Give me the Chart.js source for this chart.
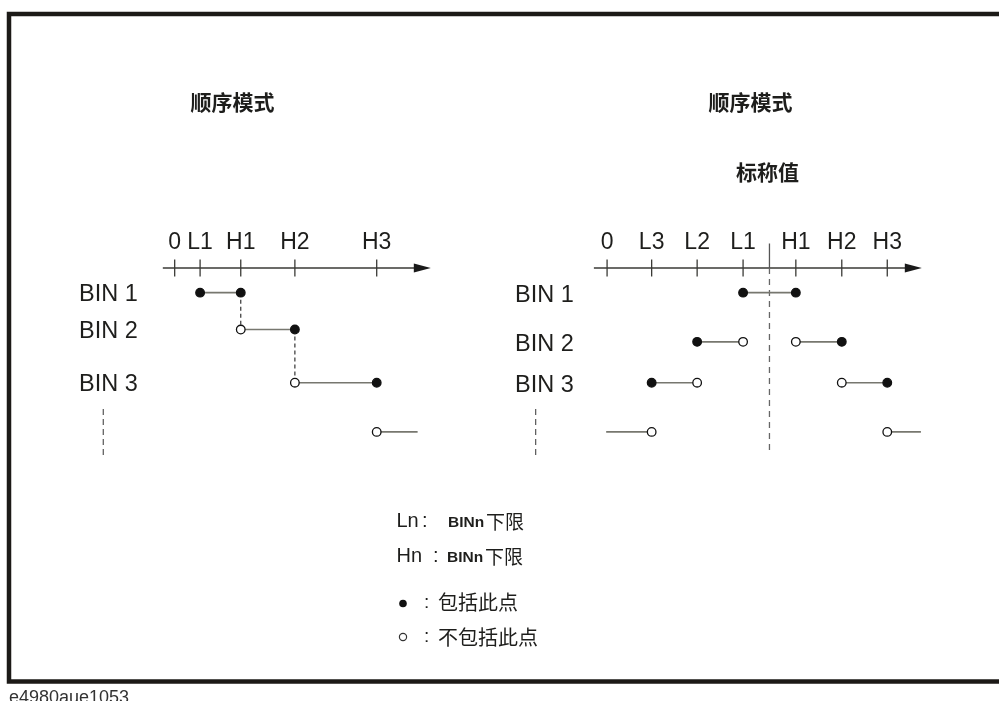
<!DOCTYPE html>
<html>
<head>
<meta charset="utf-8">
<script src="https://cdn.jsdelivr.net/npm/chart.js@4.4.1/dist/chart.umd.min.js"></script>
<style>
  html, body { margin: 0; padding: 0; background: #fff; }
  #wrap { width: 999px; height: 701px; position: relative; }
</style>
</head>
<body>
<div id="wrap"><canvas id="binChart"></canvas></div>
<script>
// Number line ticks (limit units along each line)
const leftTickLabels = ['0', 'L1', 'H1', 'H2', 'H3'];
const leftTickValues = [0, 1, 2.6, 4.73, 7.95];
const rightTickLabels = ['0', 'L3', 'L2', 'L1', 'H1', 'H2', 'H3'];
const rightTickValues = [0, 0.98, 1.98, 2.99, 4.15, 5.16, 6.16];
const nominalValue = 3.57;

// Rows: BIN 1..3, then the "further bins" row
const binLabels = ['BIN 1', 'BIN 2', 'BIN 3'];
const leftRows = [1, 2.5, 4.66, 6.66];
const rightRows = [1, 3, 4.66, 6.66];

// Bin ranges: [from, to, fromIncluded, toIncluded]
const leftBins = [
  [['L1', 'H1', true, true]],
  [['H1', 'H2', false, true]],
  [['H2', 'H3', false, true]]
];
const rightBins = [
  [['L1', 'H1', true, true]],
  [['L2', 'L1', true, false], ['H1', 'H2', false, true]],
  [['L3', 'L2', true, false], ['H2', 'H3', false, true]]
];
// open-ended ranges after the last bin
const leftTailEnd = 9.56;
const rightTailStart = -0.02;
const rightTailEnd = 6.9;

const W = 999, H = 701;
const leftOriginPx = 171, leftUnitPx = 25.7;
const rightOriginPx = 608.3, rightUnitPx = 46;
const axisPx = 266.7, rowUnitPx = 25;

const CJK = '"Noto Sans CJK SC", sans-serif';
const LATIN = '"Liberation Sans", Arial, sans-serif';
const INK = '#1e1e1c';

const leftVal = name => leftTickValues[leftTickLabels.indexOf(name)];
const rightVal = name => rightTickValues[rightTickLabels.indexOf(name)];

function dotColor(kind) {
  return kind === 'in' ? '#111' : '#fff';
}

function segment(xAxisID, x0, x1, y, dot0, dot1) {
  return {
    xAxisID: xAxisID,
    yAxisID: 'y',
    data: [{ x: x0, y: y }, { x: x1, y: y }],
    showLine: true,
    borderColor: '#77776f',
    borderWidth: 1.6,
    pointRadius: [dot0 ? 4.3 : 0, dot1 ? 4.3 : 0],
    pointBackgroundColor: [dotColor(dot0), dotColor(dot1)],
    pointBorderColor: '#111',
    pointBorderWidth: 1.3,
    order: 1
  };
}

function guide(xAxisID, x, y0, y1, dash, color, width) {
  return {
    xAxisID: xAxisID,
    yAxisID: 'y',
    data: [{ x: x, y: y0 }, { x: x, y: y1 }],
    showLine: true,
    borderColor: color,
    borderWidth: width || 1.2,
    borderDash: dash,
    pointRadius: 0,
    order: 2
  };
}

const datasets = [];

// left diagram
leftBins.forEach((ranges, i) => {
  ranges.forEach(r => {
    datasets.push(segment('xL', leftVal(r[0]), leftVal(r[1]), leftRows[i],
      r[2] ? 'in' : 'out', r[3] ? 'in' : 'out'));
  });
});
datasets.push(segment('xL', leftVal('H3'), leftTailEnd, leftRows[3], 'out', null));
datasets.push(guide('xL', leftVal('H1'), leftRows[0], leftRows[1], [4, 3], '#333'));
datasets.push(guide('xL', leftVal('H2'), leftRows[1], leftRows[2], [4, 3], '#333'));

// right diagram
rightBins.forEach((ranges, i) => {
  ranges.forEach(r => {
    datasets.push(segment('xR', rightVal(r[0]), rightVal(r[1]), rightRows[i],
      r[2] ? 'in' : 'out', r[3] ? 'in' : 'out'));
  });
});
datasets.push(segment('xR', rightTailStart, rightVal('L3'), rightRows[3], null, 'out'));
datasets.push(segment('xR', rightVal('H3'), rightTailEnd, rightRows[3], 'out', null));
datasets.push(guide('xR', nominalValue, -1, 0, [], '#555', 1.3));
datasets.push(guide('xR', nominalValue, 0, 7.6, [6, 5], '#666', 1.3));

// "more bins" dashes under the BIN labels
datasets.push(guide('xL', -2.81, 5.73, 7.73, [6, 4], '#555'));
datasets.push(guide('xR', -1.57, 5.73, 7.73, [6, 4], '#555'));

const diagramPlugin = {
  id: 'diagram',
  beforeDatasetsDraw(chart) {
    const ctx = chart.ctx;
    const y = chart.scales.y.getPixelForValue(0);
    const sides = [
      { scale: chart.scales.xL, labels: leftTickLabels, values: leftTickValues, from: -0.467, to: 10.08 },
      { scale: chart.scales.xR, labels: rightTickLabels, values: rightTickValues, from: -0.29, to: 6.92 }
    ];
    ctx.save();
    sides.forEach(s => {
      const x0 = s.scale.getPixelForValue(s.from);
      const x1 = s.scale.getPixelForValue(s.to);
      ctx.strokeStyle = '#3a3a36';
      ctx.lineWidth = 1.5;
      ctx.beginPath();
      ctx.moveTo(x0, y);
      ctx.lineTo(x1 - 10, y);
      ctx.stroke();
      // arrow head
      ctx.fillStyle = '#1a1a1a';
      ctx.beginPath();
      ctx.moveTo(x1, y);
      ctx.lineTo(x1 - 17, y - 4.5);
      ctx.lineTo(x1 - 17, y + 4.5);
      ctx.closePath();
      ctx.fill();
      // ticks + labels
      ctx.lineWidth = 1.3;
      ctx.font = '23px ' + LATIN;
      ctx.textAlign = 'center';
      ctx.textBaseline = 'alphabetic';
      s.values.forEach((v, i) => {
        const px = s.scale.getPixelForValue(v);
        ctx.beginPath();
        ctx.moveTo(px, y - 8.5);
        ctx.lineTo(px, y + 8.5);
        ctx.stroke();
        ctx.fillStyle = INK;
        ctx.fillText(s.labels[i], px, 248.5);
      });
    });
    ctx.restore();
  },
  afterDraw(chart) {
    const ctx = chart.ctx;
    const ys = chart.scales.y;
    ctx.save();

    // frame
    ctx.strokeStyle = '#1c1a17';
    ctx.lineWidth = 4.5;
    ctx.strokeRect(9, 14, 1100, 667.5);

    // titles
    ctx.fillStyle = INK;
    ctx.textAlign = 'center';
    ctx.textBaseline = 'middle';
    ctx.font = 'bold 21px ' + CJK;
    ctx.fillText('顺序模式', 232.5, 102);
    ctx.fillText('顺序模式', 750.5, 102);
    ctx.fillText('标称值', chart.scales.xR.getPixelForValue(nominalValue) - 2, 172);

    // BIN labels
    ctx.textAlign = 'left';
    ctx.font = '23.5px ' + LATIN;
    binLabels.forEach((label, i) => {
      ctx.fillText(label, 79, ys.getPixelForValue(leftRows[i]) + 1.5);
      ctx.fillText(label, 515, ys.getPixelForValue(rightRows[i]) + 2.5);
    });

    // legend
    ctx.textBaseline = 'alphabetic';
    ctx.font = '20px ' + LATIN;
    ctx.fillText('Ln', 396.5, 527);
    ctx.fillText(':', 422, 527);
    ctx.fillText('Hn', 396.5, 562);
    ctx.fillText(':', 433, 562);
    ctx.font = 'bold 15.5px ' + LATIN;
    ctx.fillText('BINn', 448, 527);
    ctx.fillText('BINn', 447, 562);
    ctx.font = '19px ' + CJK;
    ctx.fillText('下限', 486, 529);
    ctx.fillText('下限', 485, 564);

    ctx.fillStyle = '#111';
    ctx.beginPath();
    ctx.arc(403, 603.5, 3.8, 0, Math.PI * 2);
    ctx.fill();
    ctx.strokeStyle = '#333';
    ctx.lineWidth = 1.2;
    ctx.beginPath();
    ctx.arc(403, 637, 3.6, 0, Math.PI * 2);
    ctx.stroke();

    ctx.fillStyle = INK;
    ctx.textBaseline = 'middle';
    ctx.font = '19px ' + LATIN;
    ctx.fillText(':', 424, 603);
    ctx.fillText(':', 424, 637);
    ctx.font = '20px ' + CJK;
    ctx.fillText('包括此点', 438, 602);
    ctx.fillText('不包括此点', 438, 637);

    // figure id
    ctx.fillStyle = '#333';
    ctx.textBaseline = 'alphabetic';
    ctx.font = '18px ' + LATIN;
    ctx.fillText('e4980aue1053', 9, 703);

    ctx.restore();
  }
};

new Chart(document.getElementById('binChart'), {
  type: 'scatter',
  data: { datasets: datasets },
  options: {
    responsive: true,
    maintainAspectRatio: false,
    animation: false,
    events: [],
    layout: { padding: 0 },
    plugins: {
      legend: { display: false },
      tooltip: { enabled: false }
    },
    scales: {
      xL: {
        type: 'linear', position: 'bottom', display: false,
        min: -leftOriginPx / leftUnitPx, max: (W - leftOriginPx) / leftUnitPx
      },
      xR: {
        type: 'linear', position: 'bottom', display: false,
        min: -rightOriginPx / rightUnitPx, max: (W - rightOriginPx) / rightUnitPx
      },
      y: {
        type: 'linear', display: false, reverse: true,
        min: -axisPx / rowUnitPx, max: (H - axisPx) / rowUnitPx
      }
    }
  },
  plugins: [diagramPlugin]
});
</script>
</body>
</html>
